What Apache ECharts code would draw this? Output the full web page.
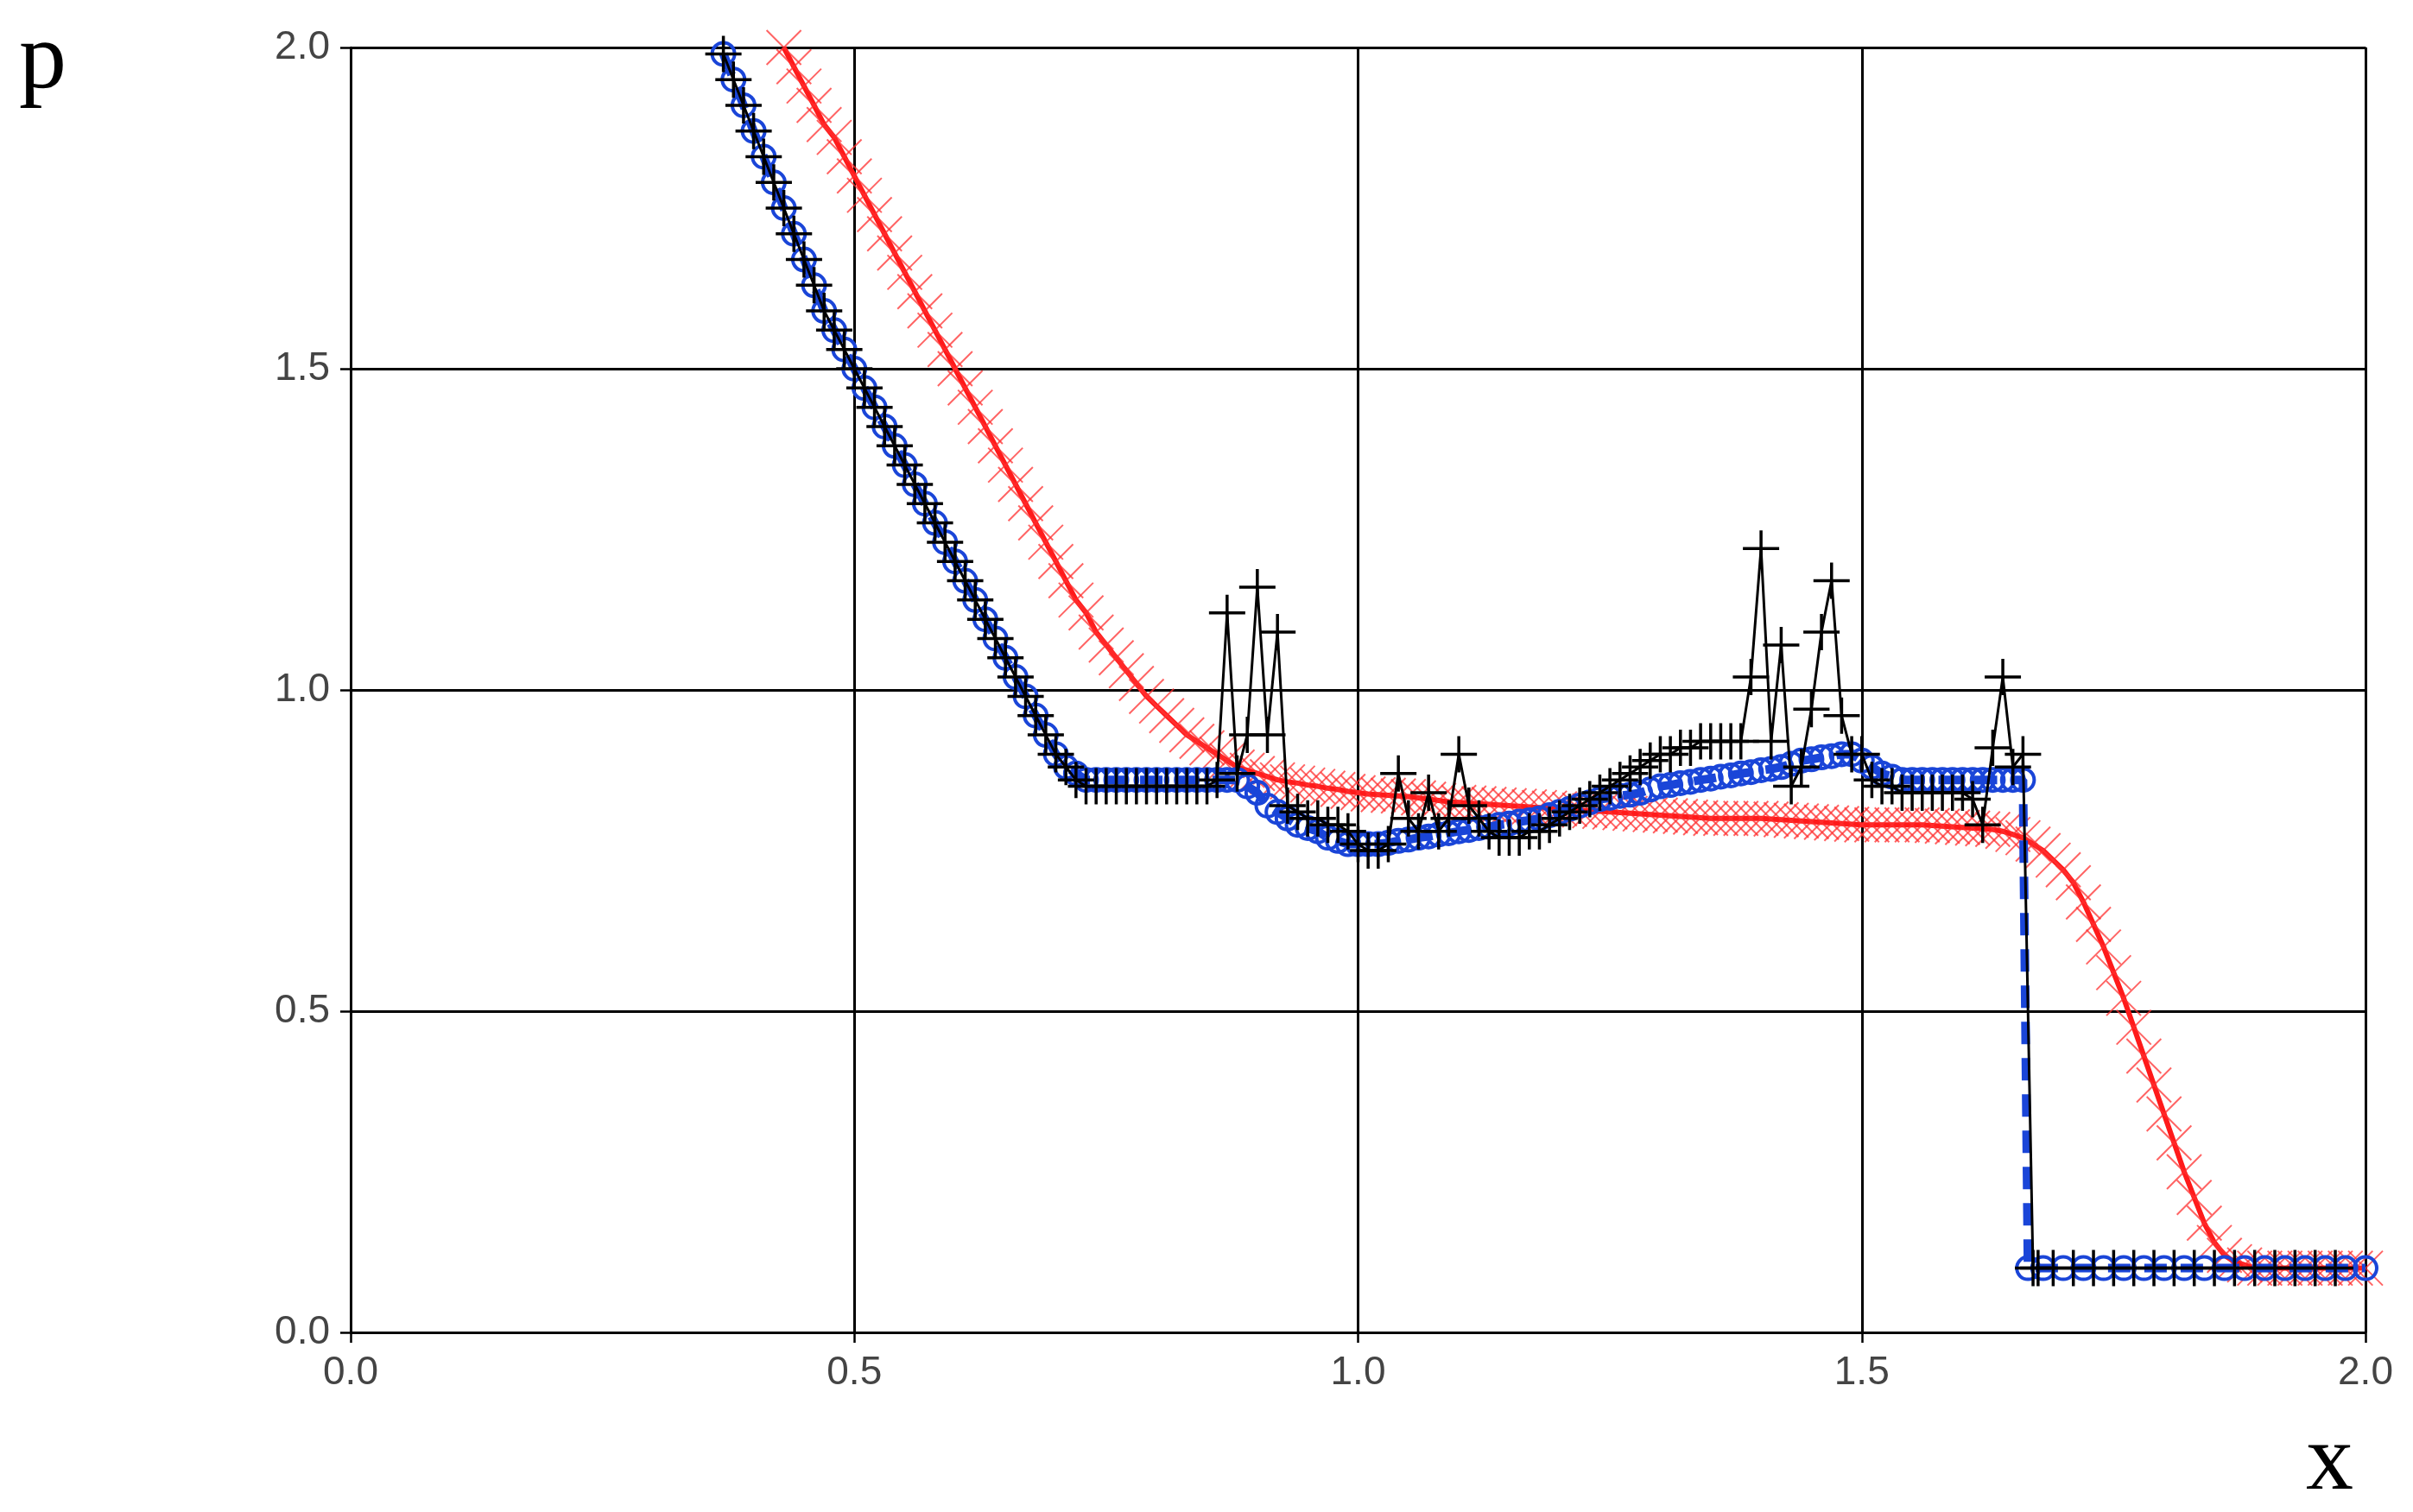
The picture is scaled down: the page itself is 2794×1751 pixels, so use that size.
<!DOCTYPE html>
<html><head><meta charset="utf-8">
<script src="https://cdn.jsdelivr.net/npm/echarts@6/dist/echarts.min.js"></script>
<style>html,body{margin:0;padding:0;background:#fff}#c{width:2794px;height:1751px}</style>
</head><body><div id="c"></div>
<script>
const xTicks = [0.0, 0.5, 1.0, 1.5, 2.0];
const yTicks = [0.0, 0.5, 1.0, 1.5, 2.0];

const blueX = [0.37,0.38,0.39,0.40,0.41,0.42,0.43,0.44,0.45,0.46,0.47,0.48,0.49,0.50,0.51,0.52,0.53,0.54,0.55,0.56,0.57,0.58,0.59,0.60,0.61,0.62,0.63,0.64,0.65,0.66,0.67,0.68,0.69,0.70,0.71,0.72,0.73,0.74,0.75,0.76,0.77,0.78,0.79,0.80,0.81,0.82,0.83,0.84,0.85,0.86,0.87,0.88,0.89,0.90,0.91,0.92,0.93,0.94,0.95,0.96,0.97,0.98,0.99,1.00,1.01,1.02,1.03,1.04,1.05,1.06,1.07,1.08,1.09,1.10,1.11,1.12,1.13,1.14,1.15,1.16,1.17,1.18,1.19,1.20,1.21,1.22,1.23,1.24,1.25,1.26,1.27,1.28,1.29,1.30,1.31,1.32,1.33,1.34,1.35,1.36,1.37,1.38,1.39,1.40,1.41,1.42,1.43,1.44,1.45,1.46,1.47,1.48,1.49,1.50,1.51,1.52,1.53,1.54,1.55,1.56,1.57,1.58,1.59,1.60,1.61,1.62,1.63,1.64,1.65,1.66,1.665,1.68,1.70,1.72,1.74,1.76,1.78,1.80,1.82,1.84,1.86,1.88,1.90,1.92,1.94,1.96,1.98,2.00];
const blueY = [1.99,1.95,1.91,1.87,1.83,1.79,1.75,1.71,1.67,1.63,1.59,1.56,1.53,1.50,1.47,1.44,1.41,1.38,1.35,1.32,1.29,1.26,1.23,1.20,1.17,1.14,1.11,1.08,1.05,1.02,0.99,0.96,0.93,0.90,0.88,0.87,0.86,0.86,0.86,0.86,0.86,0.86,0.86,0.86,0.86,0.86,0.86,0.86,0.86,0.86,0.86,0.86,0.85,0.84,0.82,0.81,0.80,0.79,0.785,0.78,0.77,0.765,0.76,0.76,0.76,0.76,0.762,0.765,0.767,0.77,0.772,0.775,0.777,0.78,0.782,0.785,0.787,0.79,0.792,0.795,0.797,0.80,0.805,0.81,0.815,0.82,0.825,0.83,0.832,0.835,0.837,0.84,0.845,0.85,0.852,0.855,0.857,0.86,0.862,0.865,0.867,0.87,0.872,0.875,0.877,0.88,0.885,0.89,0.892,0.895,0.897,0.90,0.90,0.89,0.88,0.87,0.865,0.86,0.86,0.86,0.86,0.86,0.86,0.86,0.86,0.86,0.86,0.86,0.86,0.86,0.10,0.10,0.10,0.10,0.10,0.10,0.10,0.10,0.10,0.10,0.10,0.10,0.10,0.10,0.10,0.10,0.10,0.10];

const blackX = [0.37,0.38,0.39,0.40,0.41,0.42,0.43,0.44,0.45,0.46,0.47,0.48,0.49,0.50,0.51,0.52,0.53,0.54,0.55,0.56,0.57,0.58,0.59,0.60,0.61,0.62,0.63,0.64,0.65,0.66,0.67,0.68,0.69,0.70,0.71,0.72,0.73,0.74,0.75,0.76,0.77,0.78,0.79,0.80,0.81,0.82,0.83,0.84,0.85,0.86,0.87,0.88,0.89,0.90,0.91,0.92,0.93,0.94,0.95,0.96,0.97,0.98,0.99,1.00,1.01,1.02,1.03,1.04,1.05,1.06,1.07,1.08,1.09,1.10,1.11,1.12,1.13,1.14,1.15,1.16,1.17,1.18,1.19,1.20,1.21,1.22,1.23,1.24,1.25,1.26,1.27,1.28,1.29,1.30,1.31,1.32,1.33,1.34,1.35,1.36,1.37,1.38,1.39,1.40,1.41,1.42,1.43,1.44,1.45,1.46,1.47,1.48,1.49,1.50,1.51,1.52,1.53,1.54,1.55,1.56,1.57,1.58,1.59,1.60,1.61,1.62,1.63,1.64,1.65,1.66,1.67,1.675,1.69,1.71,1.73,1.75,1.77,1.79,1.81,1.83,1.85,1.87,1.89,1.91,1.93,1.95,1.97,1.99];
const blackY = [1.99,1.95,1.91,1.87,1.83,1.79,1.75,1.71,1.67,1.63,1.59,1.56,1.53,1.50,1.47,1.44,1.41,1.38,1.35,1.32,1.29,1.26,1.23,1.20,1.17,1.14,1.11,1.08,1.05,1.02,0.99,0.96,0.93,0.90,0.88,0.86,0.85,0.85,0.85,0.85,0.85,0.85,0.85,0.85,0.85,0.85,0.85,0.85,0.85,0.86,1.12,0.87,0.93,1.16,0.93,1.09,0.82,0.81,0.80,0.80,0.79,0.79,0.78,0.76,0.75,0.75,0.76,0.87,0.80,0.78,0.84,0.78,0.80,0.90,0.82,0.80,0.78,0.77,0.77,0.77,0.78,0.78,0.79,0.80,0.81,0.82,0.83,0.84,0.85,0.86,0.87,0.88,0.89,0.90,0.90,0.91,0.91,0.92,0.92,0.92,0.92,0.92,1.02,1.22,0.92,1.07,0.85,0.88,0.97,1.09,1.17,0.96,0.90,0.90,0.86,0.85,0.85,0.84,0.84,0.84,0.84,0.84,0.84,0.84,0.83,0.79,0.91,1.02,0.88,0.90,0.10,0.10,0.10,0.10,0.10,0.10,0.10,0.10,0.10,0.10,0.10,0.10,0.10,0.10,0.10,0.10,0.10];

const redX = [0.43,0.44,0.45,0.46,0.47,0.48,0.49,0.50,0.51,0.52,0.53,0.54,0.55,0.56,0.57,0.58,0.59,0.60,0.61,0.62,0.63,0.64,0.65,0.66,0.67,0.68,0.69,0.70,0.71,0.72,0.73,0.74,0.75,0.76,0.77,0.78,0.79,0.80,0.81,0.82,0.83,0.84,0.85,0.86,0.87,0.88,0.89,0.90,0.91,0.92,0.93,0.94,0.95,0.96,0.97,0.98,0.99,1.00,1.01,1.02,1.03,1.04,1.05,1.06,1.07,1.08,1.09,1.10,1.11,1.12,1.13,1.14,1.15,1.16,1.17,1.18,1.19,1.20,1.21,1.22,1.23,1.24,1.25,1.26,1.27,1.28,1.29,1.30,1.31,1.32,1.33,1.34,1.35,1.36,1.37,1.38,1.39,1.40,1.41,1.42,1.43,1.44,1.45,1.46,1.47,1.48,1.49,1.50,1.51,1.52,1.53,1.54,1.55,1.56,1.57,1.58,1.59,1.60,1.61,1.62,1.63,1.64,1.65,1.66,1.67,1.68,1.69,1.70,1.71,1.72,1.73,1.74,1.75,1.76,1.77,1.78,1.79,1.80,1.81,1.82,1.83,1.84,1.85,1.86,1.87,1.88,1.89,1.90,1.91,1.92,1.93,1.94,1.95,1.96,1.97,1.98,1.99,2.00];
const redY = [2.00,1.97,1.94,1.91,1.88,1.86,1.83,1.80,1.77,1.74,1.71,1.68,1.65,1.62,1.59,1.56,1.53,1.50,1.47,1.44,1.41,1.38,1.35,1.32,1.29,1.26,1.23,1.20,1.17,1.14,1.12,1.09,1.07,1.05,1.03,1.01,0.99,0.975,0.96,0.945,0.93,0.92,0.91,0.90,0.89,0.88,0.875,0.87,0.865,0.86,0.857,0.855,0.852,0.85,0.847,0.845,0.842,0.84,0.838,0.837,0.836,0.835,0.834,0.832,0.83,0.828,0.826,0.825,0.824,0.823,0.822,0.821,0.82,0.819,0.818,0.817,0.816,0.815,0.814,0.813,0.812,0.811,0.81,0.809,0.808,0.807,0.806,0.805,0.804,0.803,0.802,0.801,0.80,0.80,0.80,0.80,0.80,0.80,0.799,0.798,0.797,0.796,0.795,0.794,0.793,0.792,0.791,0.79,0.79,0.79,0.79,0.79,0.79,0.79,0.789,0.788,0.787,0.786,0.785,0.784,0.783,0.78,0.775,0.77,0.76,0.75,0.735,0.72,0.70,0.67,0.635,0.60,0.56,0.52,0.475,0.43,0.385,0.34,0.295,0.25,0.21,0.17,0.14,0.12,0.11,0.105,0.10,0.10,0.10,0.10,0.10,0.10,0.10,0.10,0.10,0.10,0.10,0.10,0.10,0.10];

const zip = (a, b) => a.map((v, i) => [v, b[i]]);
const plusPath = 'path://M0,-10V10M-10,0H10';
const crossPath = 'path://M-10,-10L10,10M-10,10L10,-10';

const chart = echarts.init(document.getElementById('c'));
chart.setOption({
  animation: false,
  backgroundColor: '#fff',
  grid: {left: 406, right: 55, top: 55, bottom: 208, show: true, borderColor: '#888', borderWidth: 2},
  xAxis: {
    type: 'value', min: 0, max: 2, interval: 0.5,
    axisLine: {show: true, lineStyle: {color: '#000', width: 2.5}},
    axisTick: {show: true, length: 12, lineStyle: {color: '#000', width: 2.5}},
    axisLabel: {formatter: v => v.toFixed(1), fontSize: 46, color: '#444', margin: 24, fontFamily: 'Liberation Sans'},
    splitLine: {show: true, lineStyle: {color: '#000', width: 3}}
  },
  yAxis: {
    type: 'value', min: 0, max: 2, interval: 0.5,
    axisLine: {show: true, lineStyle: {color: '#000', width: 2.5}},
    axisTick: {show: true, length: 12, lineStyle: {color: '#000', width: 2.5}},
    axisLabel: {formatter: v => v.toFixed(1), fontSize: 46, color: '#444', margin: 24, fontFamily: 'Liberation Sans'},
    splitLine: {show: true, lineStyle: {color: '#000', width: 3}}
  },
  graphic: [
    {type: 'text', left: 22, top: 18, style: {text: 'p', fontSize: 110, fontFamily: 'Liberation Serif', fill: '#000'}},
    {type: 'text', left: 2670, top: 1640, style: {text: 'x', fontSize: 110, fontFamily: 'Liberation Serif', fill: '#000'}}
  ],
  series: [
    {
      type: 'line', data: zip(redX, redY), symbol: crossPath, symbolSize: 40,
      lineStyle: {color: '#ff1a1a', width: 6},
      itemStyle: {color: 'none', borderColor: '#ff3030', borderWidth: 2, opacity: 0.75}, z: 2
    },
    {
      type: 'line', data: zip(blueX, blueY), symbol: 'circle', symbolSize: 26,
      lineStyle: {color: '#1a45d8', width: 10, type: [26, 16]},
      itemStyle: {color: 'none', borderColor: '#1a45d8', borderWidth: 4}, z: 3
    },
    {
      type: 'line', data: zip(blackX, blackY), symbol: plusPath, symbolSize: 42,
      lineStyle: {color: '#000', width: 3},
      itemStyle: {color: 'none', borderColor: '#000', borderWidth: 3.5}, z: 4
    }
  ]
});
</script></body></html>
